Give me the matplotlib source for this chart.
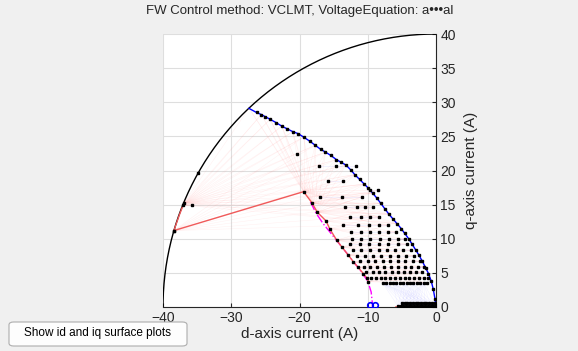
import numpy as np
import matplotlib.pyplot as plt
from matplotlib.patches import FancyBboxPatch

plt.rcParams['font.family'] = ['Liberation Sans', 'DejaVu Sans']

# ----------------- data -----------------
I_MAX = 40.0

# voltage limit curve (blue)
blue_id = [-27.4, -26.3, -25.6, -25.05, -24.3, -23.4, -22.6, -21.8, -21.0, -20.2,
           -19.4, -18.5, -17.7, -16.9, -16.2, -15.4, -14.6, -13.9, -13.2, -12.5,
           -11.9, -11.2, -10.5, -9.9, -9.3, -8.7, -8.1, -7.5, -6.9, -6.3,
           -5.7, -5.1, -4.6, -4.0, -3.5, -3.0, -2.5, -2.0, -1.5, -1.1,
           -0.7, -0.4, -0.15, 0.0]
blue_iq = [29.1, 28.5, 28.2, 27.9, 27.5, 27.0, 26.5, 26.1, 25.7, 25.4,
           24.9, 24.3, 23.7, 23.1, 22.7, 22.2, 21.6, 21.2, 20.8, 20.1,
           19.4, 18.7, 18.0, 17.4, 16.7, 16.0, 15.2, 14.4, 13.6, 12.9,
           12.2, 11.5, 10.8, 10.0, 9.2, 8.4, 7.6, 6.7, 5.7, 4.9,
           3.8, 2.6, 1.2, 0.0]

# red trajectory (current limit -> MTPA)
red_id = [-36.9, -37.6, -38.4, -19.4, -18.2, -17.4, -16.1, -15.6, -14.55, -13.8,
          -12.85, -12.1, -11.4, -10.65, -10.07, -9.9]
red_iq = [15.3, 13.5, 11.2, 16.9, 15.3, 13.9, 12.6, 11.5, 9.8, 8.8,
          7.6, 6.6, 5.8, 4.9, 4.2, 3.7]

# red segment along the d axis
red_bottom_id = [-5.8, 0.0]
red_bottom_iq = [0.05, 0.05]

# magenta dash-dot curve
mag_id = [-18.4, -17.6, -16.6, -15.0, -13.0, -11.2, -10.0, -9.5, -9.35, -9.3]
mag_iq = [15.4, 13.8, 12.3, 10.3, 7.8, 5.5, 3.8, 2.2, 0.8, 0.0]

# characteristic current markers
char_id = [-9.6, -8.9]
char_iq = [0.25, 0.25]

# points on the current limit circle
circ_pt_id = [-38.4, -37.0, -36.9, -35.7, -34.8]
circ_pt_iq = [11.2, 14.9, 15.3, 14.9, 19.7]

# operating point grid, one row per q level
row_iq = [22.4, 20.6, 18.4, 17.1, 16.1, 14.6, 13.2, 12.0, 11.0, 10.0,
          9.2, 8.3, 7.5, 6.7, 5.9, 5.1, 4.2, 3.5, 0.6, 0.15]
row_id = [
    [-20.3],
    [-17.1, -14.7, -11.7],
    [-15.8, -13.6],
    [-9.7, -8.5],
    [-17.0, -13.7, -10.9],
    [-13.4, -11.6, -10.4, -9.2],
    [-12.6, -11.0, -9.6, -8.3],
    [-13.6, -11.4, -9.8, -8.4, -7.0],
    [-12.4, -11.0, -9.7, -8.3, -7.0, -5.8],
    [-12.3, -11.0, -9.6, -8.2, -6.9, -5.6, -4.5],
    [-12.6, -11.2, -9.8, -8.4, -7.0, -5.6, -4.3],
    [-12.2, -11.0, -9.7, -8.4, -7.2, -6.0, -4.8, -3.6],
    [-11.6, -10.4, -9.2, -8.0, -6.8, -5.6, -4.4, -3.2],
    [-11.2, -10.0, -8.9, -7.8, -6.7, -5.6, -4.5, -3.4, -2.4],
    [-10.6, -9.6, -8.6, -7.6, -6.6, -5.6, -4.6, -3.6, -2.6, -1.8],
    [-10.2, -9.2, -8.3, -7.4, -6.5, -5.6, -4.7, -3.8, -2.9, -2.0],
    [-9.5, -8.8, -8.1, -7.4, -6.7, -6.0, -5.3, -4.6, -3.9, -3.2, -2.5, -1.8, -1.1],
    [-7.8, -7.3, -6.8, -6.3, -5.8, -5.3, -4.8, -4.3, -3.8, -3.3, -2.8, -2.3, -1.8, -1.3],
    [-5.0, -4.6, -4.2, -3.8, -3.4, -3.0, -2.6, -2.2, -1.8, -1.4, -1.0, -0.6, -0.2],
    [-5.6, -5.2, -4.8, -4.4, -4.0, -3.6, -3.2, -2.8, -2.4, -2.0, -1.6, -1.2, -0.8, -0.4, 0.0],
]

x_ticks = [-40, -30, -20, -10, 0]
y_ticks = [0, 5, 10, 15, 20, 25, 30, 35, 40]

# ----------------- figure -----------------
fig = plt.figure(figsize=(5.78, 3.51), dpi=100)
fig.patch.set_facecolor('#f0f0f0')
ax = fig.add_axes([163 / 578, 1 - 307 / 351, 273 / 578, 273 / 351])
ax.set_facecolor('white')

# faint fan lines (pink from the current limit, blue between grid points)
fan_src = list(zip(circ_pt_id[:3] + red_id[3:6], circ_pt_iq[:3] + red_iq[3:6]))
for sx, sy in fan_src:
    for bx, by in zip(blue_id[::2], blue_iq[::2]):
        if by > 12 and by < sy + 14:
            ax.plot([sx, bx], [sy, by], color='#ff8080', lw=0.4, alpha=0.11, zorder=1)
for sx, sy in zip(red_id[3:], red_iq[3:]):
    for y, xs in zip(row_iq, row_id):
        if abs(y - sy) < 2.5:
            ax.plot([sx, xs[-1]], [sy, y], color='#ff8080', lw=0.4, alpha=0.15, zorder=1)
for y, xs in zip(row_iq, row_id):
    if len(xs) > 1:
        ax.plot(xs, [y] * len(xs), color='#9090ff', lw=0.4, alpha=0.2, zorder=1)
for x0 in row_id[-1][::2]:
    for x1 in row_id[-3][::3]:
        ax.plot([x0, x1], [row_iq[-1], row_iq[-3]], color='#9090ff', lw=0.4, alpha=0.12, zorder=1)

# current limit circle
th = np.linspace(np.pi / 2, np.pi, 200)
ax.plot(I_MAX * np.cos(th), I_MAX * np.sin(th), color='black', lw=1.0, zorder=3)

ax.plot(blue_id, blue_iq, color='blue', lw=1.0, zorder=3)
ax.plot(mag_id, mag_iq, color='magenta', lw=1.0, ls='-.', zorder=3)
ax.plot(red_id, red_iq, color='#f05a5a', lw=1.0, zorder=4)
ax.plot(red_bottom_id, red_bottom_iq, color='#f05a5a', lw=1.2, zorder=4)
ax.plot(char_id, char_iq, 'o', mfc='none', mec='blue', ms=4, mew=1.2, zorder=5)

# black operating points
dot_kw = dict(ls='none', marker='s', color='black', ms=1.9, zorder=6)
ax.plot(blue_id[1:-1], blue_iq[1:-1], **dot_kw)
ax.plot(red_id[2:], red_iq[2:], **dot_kw)
ax.plot(circ_pt_id, circ_pt_iq, **dot_kw)
for y, xs in zip(row_iq, row_id):
    ax.plot(xs, [y] * len(xs), **dot_kw)

# axes styling (MATLAB look)
ax.set_xlim(-40, 0)
ax.set_ylim(0, 40)
ax.set_xticks(x_ticks)
ax.set_yticks(y_ticks)
ax.yaxis.tick_right()
ax.yaxis.set_label_position('right')
ax.tick_params(direction='in', length=3, labelsize=10, colors='#262626', pad=3)
ax.grid(True, color='#dedede', lw=0.8)
ax.set_axisbelow(True)
for side in ('top', 'left'):
    ax.spines[side].set_visible(False)
for side in ('right', 'bottom'):
    ax.spines[side].set_color('#262626')
ax.set_xlabel('d-axis current (A)', fontsize=11, color='#262626', labelpad=1)
ax.set_ylabel('q-axis current (A)', fontsize=11, color='#262626', labelpad=6)

fig.text(0.518, 0.985, 'FW Control method: VCLMT, VoltageEquation: a\u2022\u2022\u2022al',
         ha='center', va='top', fontsize=9.5, color='#262626')

# the button at the bottom left
btn = FancyBboxPatch((9 / 578, 1 - 346 / 351), 178 / 578, 24 / 351,
                     boxstyle='round,pad=0,rounding_size=0.008',
                     transform=fig.transFigure, facecolor='#fdfdfd',
                     edgecolor='#adadad', lw=0.8, zorder=10)
fig.add_artist(btn)
fig.text(98 / 578, 1 - 333 / 351, 'Show id and iq surface plots', ha='center', va='center',
         fontsize=8.5, color='black', zorder=11)

fig.savefig('out.png', dpi=100, facecolor=fig.get_facecolor())
